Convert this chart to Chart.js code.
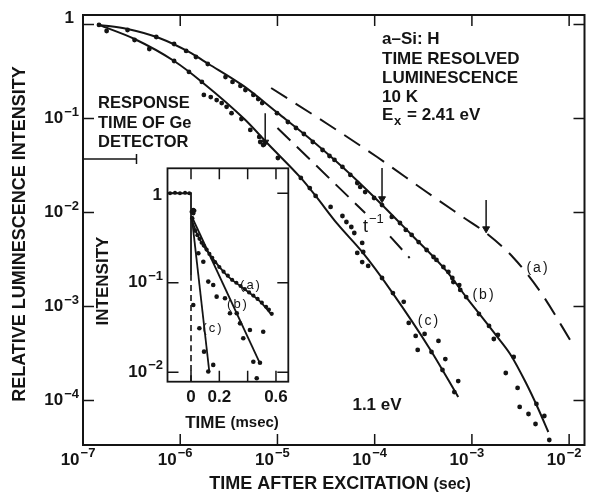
<!DOCTYPE html>
<html>
<head>
<meta charset="utf-8">
<script src="https://cdn.jsdelivr.net/npm/chart.js@4.4.1/dist/chart.umd.min.js"></script>
<style>
html, body { margin: 0; padding: 0; background: #fff; }
#wrap { position: relative; width: 591px; height: 496px; }
#main { position: absolute; left: 0; top: 0; }
#inset { position: absolute; left: 88px; top: 155px; }
</style>
</head>
<body>
<div id="wrap">
  <canvas id="main" width="591" height="496"></canvas>
  <canvas id="inset" width="212" height="280"></canvas>
</div>
<script>
// ---- main panel: time after excitation (s) vs relative intensity ----
const mainXTicks = [1e-7, 1e-6, 1e-5, 1e-4, 1e-3, 1e-2];
const mainXExp = [-7, -6, -5, -4, -3, -2];
const mainYTicks = [1, 1e-1, 1e-2, 1e-3, 1e-4];
const mainYExp = [0, -1, -2, -3, -4];

// curve (b): measured points and fitted line
const bTime = [1.46e-7, 2.87e-7, 5.67e-7, 8.65e-7, 1.15e-6, 1.45e-6, 1.92e-6, 2.92e-6, 3.45e-6, 4.16e-6,
  4.68e-6, 5.65e-6, 6.34e-6, 6.97e-6, 9.9e-6, 1.28e-5, 1.55e-5, 1.87e-5, 2.31e-5, 2.91e-5,
  3.43e-5, 3.86e-5, 4.66e-5, 5.62e-5, 6.62e-5, 7.1e-5, 7.98e-5, 9.86e-5, 1.19e-4, 1.50e-4,
  1.82e-4, 2.09e-4, 2.40e-4, 2.83e-4, 3.42e-4, 4.03e-4, 4.32e-4, 5.09e-4, 5.73e-4, 6.29e-4,
  6.44e-4, 7.41e-4, 7.59e-4, 8.73e-4, 1.18e-3, 1.50e-3, 1.68e-3, 1.85e-3, 2.69e-3, 2.23e-3,
  2.95e-3, 3.10e-3, 3.82e-3, 4.61e-3, 4.51e-3, 5.56e-3, 6.25e-3];
const bInt = [0.99, 0.874, 0.736, 0.620, 0.523, 0.451, 0.380, 0.276, 0.245, 0.222,
  0.201, 0.178, 0.161, 0.146, 0.114, 0.0918, 0.0792, 0.0684, 0.0562, 0.0462,
  0.0399, 0.0362, 0.0305, 0.0251, 0.0206, 0.0187, 0.0165, 0.01426, 0.0120, 0.00896,
  0.00773, 0.00652, 0.00577, 0.00485, 0.00399, 0.00336, 0.00313, 0.00263, 0.00233, 0.00201,
  0.00182, 0.00169, 0.00150, 0.00126, 8.32e-4, 6.21e-4, 4.51e-4, 4.98e-4, 2.90e-4, 1.96e-4,
  1.36e-4, 8.53e-5, 7.18e-5, 9.18e-5, 5.62e-5, 6.84e-5, 3.80e-5];
const bFitTime = [1.46e-7, 2.87e-7, 6.08e-7, 1.23e-6, 1.96e-6, 4.47e-6, 1.01e-5, 2.05e-5, 4.66e-5, 1.06e-4,
  2.40e-4, 5.46e-4, 8.73e-4, 1.24e-3, 1.76e-3, 2.51e-3, 3.56e-3, 4.72e-3, 6.11e-3];
const bFitInt = [0.99, 0.896, 0.718, 0.510, 0.380, 0.222, 0.114, 0.0636, 0.0305, 0.0136,
  0.00577, 0.00239, 0.00126, 7.93e-4, 4.98e-4, 3.05e-4, 1.57e-4, 8.53e-5, 4.62e-5];

// curve (c)
const cTime = [1.75e-7, 3.39e-7, 4.81e-7, 8.65e-7, 1.23e-6, 1.67e-6, 1.75e-6, 2.06e-6, 2.37e-6, 2.67e-6,
  3.00e-6, 3.37e-6, 4.26e-6, 5.26e-6, 6.50e-6, 6.65e-6, 7.13e-6, 1.01e-5, 1.74e-5, 2.15e-5,
  2.47e-5, 3.52e-5, 4.66e-5, 5.12e-5, 5.75e-5, 6.17e-5, 7.44e-5, 6.62e-5, 7.62e-5, 7.44e-5,
  8.57e-5, 1.19e-4, 1.54e-4, 1.99e-4, 2.24e-4, 2.64e-4, 3.26e-4, 2.77e-4, 3.84e-4, 4.53e-4,
  5.33e-4, 4.98e-4, 7.23e-4, 6.59e-4];
const cInt = [0.853, 0.684, 0.549, 0.409, 0.313, 0.245, 0.178, 0.169, 0.157, 0.146,
  0.133, 0.114, 0.0988, 0.0755, 0.0636, 0.0562, 0.0522, 0.0380, 0.0233, 0.0182,
  0.0150, 0.01145, 0.00918, 0.00792, 0.00701, 0.00605, 0.00474, 0.00371, 0.00380, 0.00297,
  0.00270, 0.00201, 0.00139, 0.00112, 6.68e-4, 4.86e-4, 5.10e-4, 3.45e-4, 3.28e-4, 4.30e-4,
  2.76e-4, 2.11e-4, 1.61e-4, 1.23e-4];
const cFitTime = [1.46e-7, 3.39e-7, 8.65e-7, 1.67e-6, 4.68e-6, 8.01e-6, 1.74e-5, 2.47e-5, 4.14e-5, 7.44e-5,
  1.50e-4, 3.75e-4, 7.23e-4];
const cFitInt = [0.99, 0.701, 0.409, 0.245, 0.0964, 0.0535, 0.0233, 0.0150, 0.00755, 0.00380,
  0.00143, 3.45e-4, 1.09e-4];

// curve (a): dashed, no points
const aTime = [8.61e-6, 3.27e-5, 1.06e-4, 3.42e-4, 8.34e-4, 1.40e-3, 2.69e-3, 5.07e-3, 1.10e-2];
const aInt = [0.211, 0.0874, 0.0389, 0.0165, 0.00874, 0.00605, 0.00328, 0.00143, 3.89e-4];

// t^-1 guide line (gap where the label sits)
const tInvTime = [1.0e-5, 7.98e-5, 1.1e-4, 1.44e-4, 2.29e-4];
const tInvInt = [0.0792, 0.00988, null, 0.00556, 0.00328];

// arrows
const arrowTime = [7.48e-6, 1.19e-4, 1.40e-3];
const arrowFrom = [0.114, 0.0297, 0.0136];
const arrowTo = [0.0560, 0.0140, 0.00670];

// response time of Ge detector
const respTime = [1e-7, 3.55e-7];
const respLevel = 0.0371;

// ---- inset: time (msec) vs intensity ----
const insetXTicks = [0, 0.2, 0.4, 0.6];
const insetXLabels = ['0', '0.2', '', '0.6'];
const insetYTicks = [1, 0.1, 0.01];
const insetYExp = [0, -1, -2];

const inPlateauT = [-0.148, -0.113, -0.078, -0.042, -0.012];
const inPlateauI = [1.0, 1.01, 1.0, 1.01, 1.0];
const inStepT = [-0.166, 0, 0];
const inStepI = [1.0, 1.0, 0.122];
const inZeroT = [0, 0];
const inZeroI = [0.122, 0.0079];
const inStartT = [0.005, 0.009, 0.016, 0.016, 0.023];
const inStartI = [0.623, 0.526, 0.651, 0.598, 0.639];

const inAT = [0.03, 0.045, 0.06, 0.075, 0.09, 0.11, 0.13, 0.15, 0.17, 0.20, 0.23, 0.26,
  0.29, 0.32, 0.35, 0.38, 0.41, 0.44, 0.47, 0.50, 0.53, 0.55, 0.57];
const inAI = [0.38, 0.34, 0.31, 0.28, 0.26, 0.235, 0.21, 0.19, 0.17, 0.15, 0.133, 0.12,
  0.108, 0.10, 0.092, 0.085, 0.078, 0.072, 0.066, 0.060, 0.054, 0.050, 0.045];
const inAFitT = [0, 0.016, 0.064, 0.134, 0.252, 0.369, 0.487, 0.569];
const inAFitI = [0.55, 0.45, 0.30, 0.205, 0.122, 0.087, 0.062, 0.044];

const inBT = [0.052, 0.087, 0.122, 0.157, 0.181, 0.240, 0.275, 0.323, 0.346, 0.416,
  0.510, 0.369, 0.440, 0.487, 0.464];
const inBI = [0.214, 0.172, 0.103, 0.0945, 0.070, 0.0671, 0.0456, 0.0456, 0.0352, 0.0297,
  0.0284, 0.0240, 0.0131, 0.0128, 0.00857];
const inBFitT = [0.005, 0.487];
const inBFitI = [0.55, 0.0126];

const inCT = [0.016, 0.059, 0.092, 0.122, 0.157];
const inCI = [0.0565, 0.031, 0.017, 0.0102, 0.0121];
const inCFitT = [0.005, 0.129];
const inCFitI = [0.548, 0.0102];

const INK = '#141414';
const FONT = '"Liberation Sans", Arial, sans-serif';

function pts(xs, ys) {
  return xs.map((x, i) => ({ x: x, y: ys[i] }));
}

function dots(xs, ys, r) {
  return { data: pts(xs, ys), showLine: false, pointRadius: r, pointBackgroundColor: INK, pointBorderWidth: 0 };
}

function curve(xs, ys, w, dash) {
  return {
    data: pts(xs, ys), showLine: true, pointRadius: 0, borderColor: INK, borderWidth: w,
    borderDash: dash || [], cubicInterpolationMode: 'monotone', spanGaps: false
  };
}

function pow10(ctx, exp, x, y, align, size) {
  const big = 'bold ' + size + 'px ' + FONT;
  const small = 'bold ' + Math.round(size * 0.74) + 'px ' + FONT;
  const sup = '\u2212' + Math.abs(exp);
  ctx.font = big;
  const wb = ctx.measureText('10').width;
  ctx.font = small;
  const ws = ctx.measureText(sup).width;
  const w = wb + 1 + ws;
  const left = align === 'right' ? x - w : x - w / 2;
  ctx.textAlign = 'left';
  ctx.textBaseline = 'middle';
  ctx.font = big;
  ctx.fillText('10', left, y);
  ctx.font = small;
  ctx.fillText(sup, left + wb + 1, y - 6.5);
}

function text(ctx, s, x, y, font, align) {
  ctx.font = font;
  ctx.textAlign = align || 'left';
  ctx.textBaseline = 'middle';
  ctx.fillText(s, x, y);
}

function spaced(ctx, s, cx, cy, size) {
  // curve tags like "(a)" are set wide in the original
  ctx.font = size + 'px ' + FONT;
  const gap = 2;
  const ws = s.split('').map(ch => ctx.measureText(ch).width);
  const total = ws.reduce((p, q) => p + q, 0) + gap * (s.length - 1);
  let x = cx - total / 2;
  ctx.textAlign = 'left';
  ctx.textBaseline = 'middle';
  s.split('').forEach((ch, i) => { ctx.fillText(ch, x, cy); x += ws[i] + gap; });
}

function drawFrame(ctx, a, xs, ys, xTicks, yTicks, len, lw) {
  ctx.strokeStyle = INK;
  ctx.lineWidth = lw;
  ctx.strokeRect(a.left, a.top, a.right - a.left, a.bottom - a.top);
  ctx.lineWidth = 1.5;
  ctx.beginPath();
  xTicks.forEach(v => {
    const p = xs.getPixelForValue(v);
    if (p < a.left + 2 || p > a.right - 2) return;
    ctx.moveTo(p, a.bottom); ctx.lineTo(p, a.bottom - len);
    ctx.moveTo(p, a.top); ctx.lineTo(p, a.top + len);
  });
  yTicks.forEach(v => {
    const p = ys.getPixelForValue(v);
    if (p < a.top + 2 || p > a.bottom - 2) return;
    ctx.moveTo(a.left, p); ctx.lineTo(a.left + len, p);
    ctx.moveTo(a.right, p); ctx.lineTo(a.right - len, p);
  });
  ctx.stroke();
}

const mainDecor = {
  id: 'mainDecor',
  afterDatasetsDraw(chart) {
    const { ctx, chartArea: a, scales: { x, y } } = chart;
    ctx.save();
    drawFrame(ctx, a, x, y, mainXTicks, mainYTicks, 11, 2);
    ctx.fillStyle = INK;

    mainXTicks.forEach((v, i) => pow10(ctx, mainXExp[i], x.getPixelForValue(v) - 5, 460, 'center', 17));
    mainYTicks.forEach((v, i) => {
      const p = y.getPixelForValue(v);
      if (mainYExp[i] === 0) text(ctx, '1', 74, p - 6, 'bold 17px ' + FONT, 'right');
      else pow10(ctx, mainYExp[i], 79, p, 'right', 17);
    });

    // x title, with the unit set smaller
    ctx.font = 'bold 18px ' + FONT;
    const wt = ctx.measureText('TIME AFTER EXCITATION ').width;
    ctx.font = 'bold 16px ' + FONT;
    const wu = ctx.measureText('(sec)').width;
    const xl = 340 - (wt + wu) / 2;
    text(ctx, 'TIME AFTER EXCITATION ', xl, 484, 'bold 18px ' + FONT);
    text(ctx, '(sec)', xl + wt, 485, 'bold 16px ' + FONT);

    ctx.save();
    ctx.translate(20, 234);
    ctx.rotate(-Math.PI / 2);
    text(ctx, 'RELATIVE LUMINESCENCE INTENSITY', 0, 0, 'bold 18px ' + FONT, 'center');
    ctx.restore();

    const f17 = 'bold 17px ' + FONT;
    text(ctx, 'a\u2013Si: H', 382, 39, f17);
    text(ctx, 'TIME RESOLVED', 382, 59, f17);
    text(ctx, 'LUMINESCENCE', 382, 78, f17);
    text(ctx, '10 K', 382, 97, f17);
    text(ctx, 'E', 382, 115, f17);
    text(ctx, 'x', 394, 121, 'bold 13px ' + FONT);
    text(ctx, '= 2.41 eV', 407, 115, f17);

    const f16 = 'bold 16.5px ' + FONT;
    text(ctx, 'RESPONSE', 98, 103, f16);
    text(ctx, 'TIME OF Ge', 98, 123, f16);
    text(ctx, 'DETECTOR', 98, 142, f16);

    text(ctx, 't', 363, 227, '18px ' + FONT);
    text(ctx, '\u22121', 369, 219, '13px ' + FONT);

    spaced(ctx, '(a)', 537, 268, 14);
    spaced(ctx, '(b)', 483, 295, 14);
    spaced(ctx, '(c)', 428, 321, 14);
    text(ctx, '1.1 eV', 377, 405, f17, 'center');
    ctx.restore();
  }
};

const insetDecor = {
  id: 'insetDecor',
  afterDatasetsDraw(chart) {
    const { ctx, chartArea: a, scales: { x, y } } = chart;
    ctx.save();
    drawFrame(ctx, a, x, y, insetXTicks, insetYTicks, 11, 1.8);
    ctx.fillStyle = INK;
    insetXTicks.forEach((v, i) => {
      if (insetXLabels[i]) text(ctx, insetXLabels[i], x.getPixelForValue(v), 242, 'bold 17px ' + FONT, 'center');
    });
    insetYTicks.forEach((v, i) => {
      const p = y.getPixelForValue(v);
      if (insetYExp[i] === 0) text(ctx, '1', 74, p + 2, 'bold 17px ' + FONT, 'right');
      else pow10(ctx, insetYExp[i], 75, p, 'right', 17);
    });
    // axis titles
    ctx.font = 'bold 17px ' + FONT;
    const w1 = ctx.measureText('TIME ').width;
    ctx.font = 'bold 15px ' + FONT;
    const w2 = ctx.measureText('(msec)').width;
    const left = 144 - (w1 + w2) / 2;
    text(ctx, 'TIME ', left, 268, 'bold 17px ' + FONT);
    text(ctx, '(msec)', left + w1, 268, 'bold 15px ' + FONT);
    ctx.save();
    ctx.translate(15, 126);
    ctx.rotate(-Math.PI / 2);
    text(ctx, 'INTENSITY', 0, 0, 'bold 17px ' + FONT, 'center');
    ctx.restore();
    spaced(ctx, '(a)', 162, 130, 13);
    spaced(ctx, '(b)', 149, 149, 13);
    spaced(ctx, '(c)', 124, 173, 13);
    ctx.restore();
  }
};

const arrowSets = arrowTime.map((t, i) => ({
  data: [{ x: t, y: arrowFrom[i] }, { x: t, y: arrowTo[i] }],
  showLine: true, borderColor: INK, borderWidth: 1.5,
  pointRadius: [0, 4], pointStyle: 'triangle', rotation: 180,
  pointBackgroundColor: INK, pointBorderColor: INK, pointBorderWidth: 1
}));

new Chart(document.getElementById('main'), {
  type: 'scatter',
  data: {
    datasets: [
      curve(aTime, aInt, 2, [19, 10]),
      curve(tInvTime, tInvInt, 2, [18, 9]),
      curve(bFitTime, bFitInt, 2),
      curve(cFitTime, cFitInt, 2),
      dots(bTime, bInt, 2.4),
      dots(cTime, cInt, 2.4),
      ...arrowSets,
      {
        data: pts(respTime, [respLevel, respLevel]), showLine: true,
        borderColor: INK, borderWidth: 1.5, pointStyle: 'line', rotation: 90,
        pointRadius: 5, pointBorderColor: INK, pointBorderWidth: 1.5
      }
    ]
  },
  options: {
    responsive: false,
    animation: false,
    events: [],
    layout: { padding: { left: 83, top: 15, right: 1.5, bottom: 51 } },
    scales: {
      x: { type: 'logarithmic', min: 1e-7, max: 0.01439, display: false },
      y: { type: 'logarithmic', min: 3.36e-5, max: 1.262, display: false }
    },
    plugins: { legend: { display: false }, tooltip: { enabled: false } }
  },
  plugins: [mainDecor]
});

new Chart(document.getElementById('inset'), {
  type: 'scatter',
  data: {
    datasets: [
      curve(inStepT, inStepI, 1.8),
      curve(inZeroT, inZeroI, 1.6, [6, 4]),
      curve(inAFitT, inAFitI, 1.8),
      curve(inBFitT, inBFitI, 1.8),
      curve(inCFitT, inCFitI, 1.8),
      dots(inPlateauT, inPlateauI, 2),
      dots(inStartT, inStartI, 2.2),
      dots(inAT, inAI, 2.1),
      dots(inBT, inBI, 2.3),
      dots(inCT, inCI, 2.3)
    ]
  },
  options: {
    responsive: false,
    animation: false,
    events: [],
    layout: { padding: { left: 79.5, top: 13.3, right: 11.7, bottom: 53.3 } },
    scales: {
      x: { type: 'linear', min: -0.166, max: 0.687, display: false },
      y: { type: 'logarithmic', min: 0.00785, max: 1.90, display: false }
    },
    plugins: { legend: { display: false }, tooltip: { enabled: false } }
  },
  plugins: [insetDecor]
});
</script>
</body>
</html>
